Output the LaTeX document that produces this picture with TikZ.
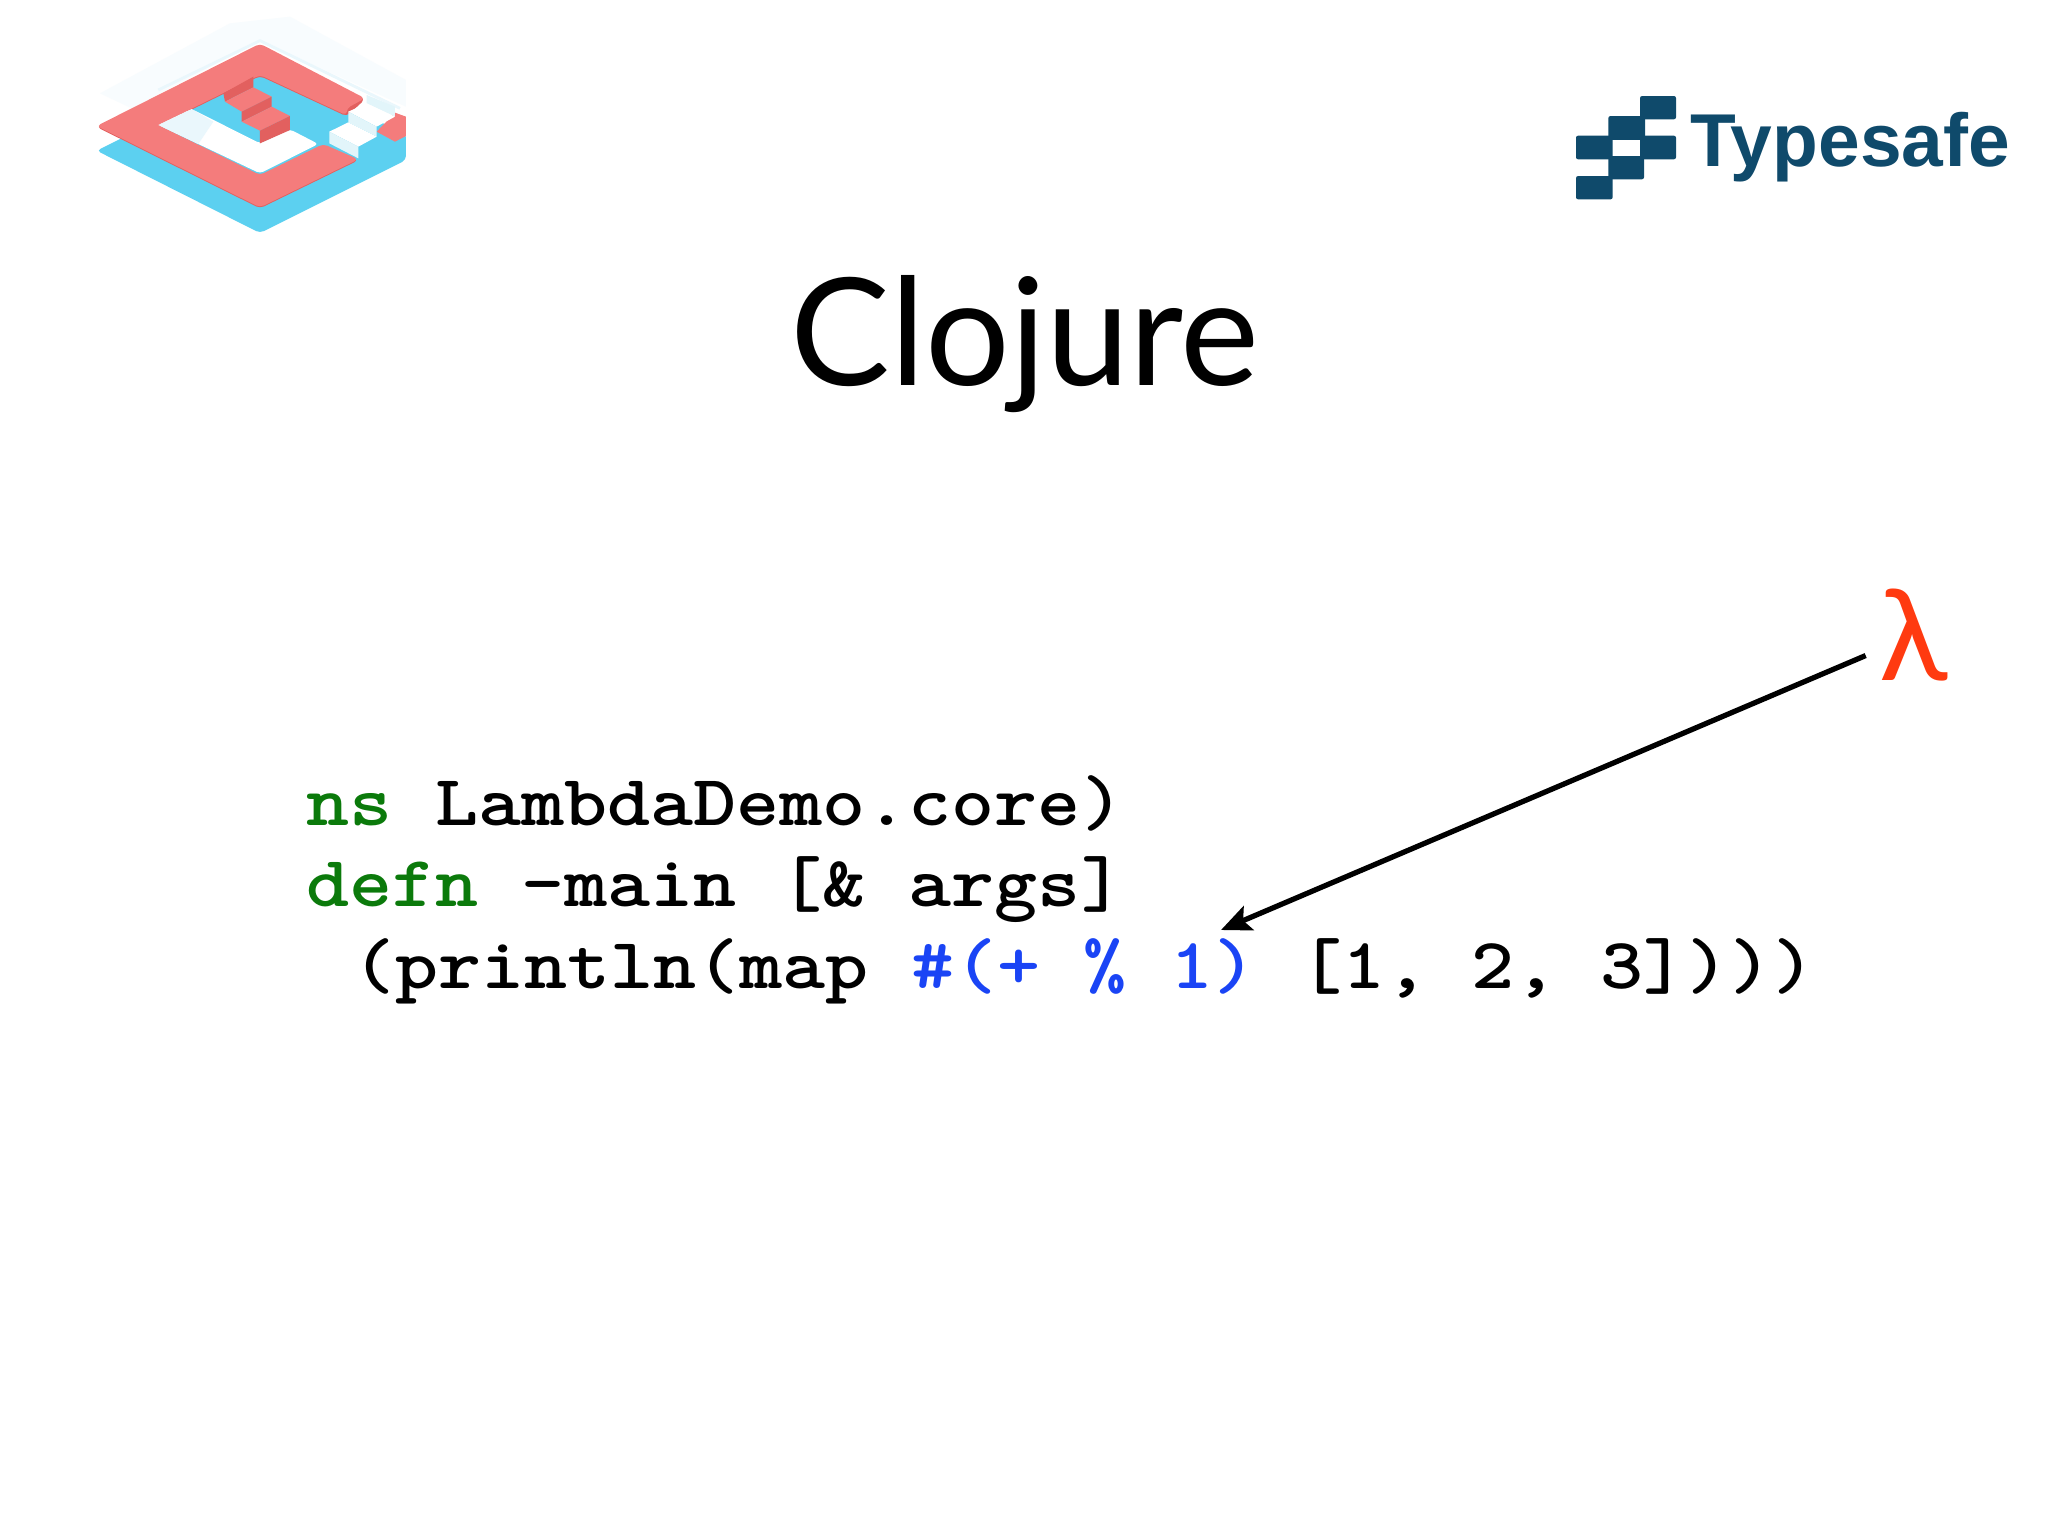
\documentclass[tikz,border=0pt]{standalone}
\usepackage{fontspec}
\setmainfont{Lato}
\newfontfamily\brandfont{Liberation Sans}
\usetikzlibrary{arrows.meta}

\definecolor{logored}{HTML}{F47C7C}
\definecolor{logodark}{HTML}{E2605F}
\definecolor{logoblue}{HTML}{5CD0F0}
\definecolor{logopale}{HTML}{E2F5FA}
\definecolor{logoedge}{HTML}{EAF7FC}
\definecolor{brandblue}{HTML}{0F4A6B}
\definecolor{codegreen}{HTML}{0B7A0B}
\definecolor{codeblue}{HTML}{1A44F5}
\definecolor{lambdared}{HTML}{FF3A10}

\newcommand{\codetext}[1]{\scalebox{1}[.88]{\fontsize{23.3}{23.3}\selectfont\ttfamily\bfseries\addfontfeature{FakeBold=2.5}#1}}

\tikzset{
  code/.style={anchor=base west,inner sep=0pt},
  brandblock/.style={fill=brandblue,rounded corners=.6},
  redface/.style={fill=logored},
  darkface/.style={fill=logodark},
  whiteface/.style={fill=white},
  paleface/.style={fill=logopale},
}

\begin{document}
\begin{tikzpicture}[x=.01cm,y=-.01cm]
  \useasboundingbox[fill=white] (0,0) rectangle (2048,1536);

  % logo, left
  \begin{scope}[shift={(60,0)},scale=1/3]
    \clip (0,0) rectangle (1038,780);
    \fill[logoedge!35] (120,280) -- (510,70) -- (690,50) -- (1038,240) -- (1038,320) -- (600,122) -- (215,325) -- cycle;
    \draw[logoedge,line width=.8pt,line join=round] (295,270) -- (600,122) -- (1020,325);
    \fill[logoblue,rounded corners=1.2] (110,452) -- (600,208) -- (1038,400) -- (1038,480) -- (600,699) -- cycle;
    \fill[logodark,rounded corners=1.2] (110,381) -- (600,134) -- (915,298) -- (860,349) -- (600,228) -- (295,378) -- (600,528) -- (790,435) -- (895,481) -- (600,625) -- cycle;
    \fill[logored,rounded corners=1.2] (110,378) -- (600,131) -- (915,295) -- (860,325) -- (860,346) -- (600,225) -- (295,375) -- (600,525) -- (790,432) -- (895,478) -- (600,622) -- cycle;
    \fill[whiteface,rounded corners=1] (395,327) -- (295,375) -- (600,520) -- (775,432) -- (690,388) -- (600,430) -- cycle;
    \fill[logoedge] (395,327) -- (295,375) -- (415,432) -- (460,365) -- cycle;
    % red steps
    \fill[darkface] (490,280) -- (580,230) -- (580,262) -- (495,305) -- cycle;
    \fill[redface] (495,305) -- (580,262) -- (635,290) -- (545,335) -- cycle;
    \fill[darkface] (545,335) -- (635,290) -- (635,320) -- (545,365) -- cycle;
    \fill[redface] (545,365) -- (635,320) -- (690,348) -- (600,392) -- cycle;
    \fill[darkface] (600,392) -- (690,348) -- (690,390) -- (600,430) -- cycle;
    % red piece behind the white steps
    \fill[redface] (950,395) -- (1005,338) -- (1038,350) -- (1038,408) -- (1005,425) -- cycle;
    % white steps
    \fill[paleface] (920,285) -- (1005,320) -- (1005,350) -- (920,310) -- cycle;
    \fill[whiteface] (865,335) -- (920,310) -- (1005,350) -- (950,380) -- cycle;
    \fill[paleface] (865,335) -- (950,380) -- (950,410) -- (865,367) -- cycle;
    \fill[whiteface] (808,395) -- (865,367) -- (950,410) -- (895,440) -- cycle;
    \fill[paleface] (808,395) -- (895,440) -- (895,475) -- (808,430) -- cycle;
  \end{scope}

  % logo, right
  \begin{scope}[shift={(1540,70)},scale=1/3]
    \fill[brandblock] (300,78) rectangle (408,148);
    \fill[brandblock] (205,138) rectangle (315,205);
    \fill[brandblock] (108,197) rectangle (218,268);
    \fill[brandblock] (300,197) rectangle (408,268);
    \fill[brandblue] (205,197) rectangle (315,210);
    \fill[brandblue] (205,258) rectangle (315,268);
    \fill[brandblock] (205,258) rectangle (312,328);
    \fill[brandblock] (108,318) rectangle (218,388);
  \end{scope}
  \node[anchor=base west,inner sep=0pt,text=brandblue] (brand) at (1690,166)
    {\fontsize{21.3}{21.3}\selectfont\brandfont\bfseries Typesafe};

  \node[anchor=base,inner sep=0pt] (title) at (1025,385)
    {\fontsize{42.5}{42.5}\selectfont Clojure};

  \node[code] (nsline) at (306,825)
    {\codetext{\textcolor{codegreen}{ns} LambdaDemo.core)}};
  \node[code] (defnline) at (306,906)
    {\codetext{\textcolor{codegreen}{defn} -main [\& args]}};
  \node[code] (printline) at (352,988)
    {\codetext{(println(map \textcolor{codeblue}{\#(+ \% 1)} [1, 2, 3])))}};

  \node[inner sep=.135cm,text=lambdared] (lambda) at (1914,635)
    {\fontsize{36}{36}\selectfont λ};
  \coordinate (fntip) at (1221,930);
  \draw[-{Stealth[length=3mm,width=2.6mm,inset=.6mm]},line width=1.5pt] (lambda) -- (fntip);
\end{tikzpicture}
\end{document}
